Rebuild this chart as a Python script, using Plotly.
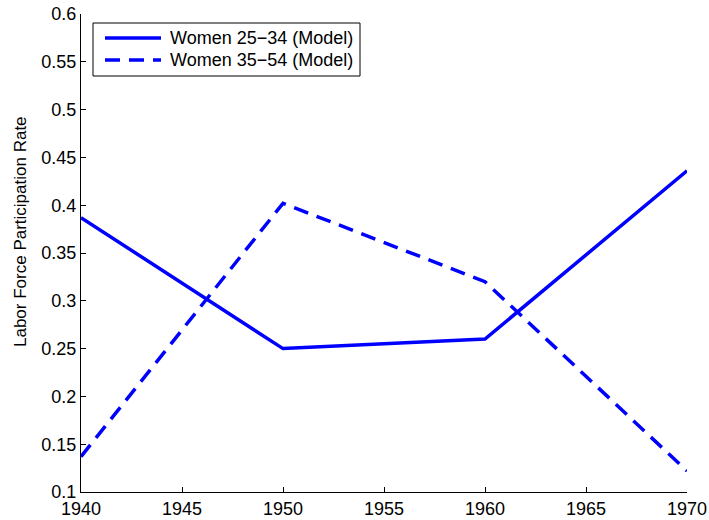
import plotly.graph_objects as go

years = [1940, 1950, 1960, 1970]
women_25_34 = [0.387, 0.250, 0.260, 0.436]
women_35_54 = [0.137, 0.402, 0.320, 0.122]
series_names = ["Women 25\u221234 (Model)", "Women 35\u221254 (Model)"]
x_ticks = [1940, 1945, 1950, 1955, 1960, 1965, 1970]
y_ticks = [0.1, 0.15, 0.2, 0.25, 0.3, 0.35, 0.4, 0.45, 0.5, 0.55, 0.6]
y_labels = ["0.1", "0.15", "0.2", "0.25", "0.3", "0.35", "0.4", "0.45", "0.5", "0.55", "0.6"]

W, H = 709, 520
L, R, T, B = 81, 22, 14, 28
pw, ph = W - L - R, H - T - B

def px(xp):
    return (xp - L) / pw

def py(yp):
    return (H - B - yp) / ph

FAM = "Liberation Sans, Arial, sans-serif"
BLUE = "#0000ff"
DASH = "15px,9px"

fig = go.Figure()
fig.add_trace(go.Scatter(x=years, y=women_25_34, mode="lines", name=series_names[0],
                         line=dict(color=BLUE, width=3.5)))
fig.add_trace(go.Scatter(x=years, y=women_35_54, mode="lines", name=series_names[1],
                         line=dict(color=BLUE, width=3.5, dash=DASH)))

font = dict(family=FAM, size=18, color="black")

shapes = [
    dict(type="rect", xref="paper", yref="paper", x0=px(93), x1=px(360), y0=py(76), y1=py(23),
         line=dict(color="black", width=1), fillcolor="white", layer="above"),
    dict(type="line", xref="paper", yref="paper", x0=px(105), x1=px(161), y0=py(38), y1=py(38),
         line=dict(color=BLUE, width=3.5), layer="above"),
    dict(type="line", xref="paper", yref="paper", x0=px(105), x1=px(161), y0=py(60), y1=py(60),
         line=dict(color=BLUE, width=3.5, dash=DASH), layer="above"),
]
annotations = [
    dict(xref="paper", yref="paper", x=px(168), y=py(38), text=series_names[0], showarrow=False,
         xanchor="left", yanchor="middle", font=font),
    dict(xref="paper", yref="paper", x=px(168), y=py(60), text=series_names[1], showarrow=False,
         xanchor="left", yanchor="middle", font=font),
    dict(xref="paper", yref="paper", x=px(20), y=py(232), text="Labor Force Participation Rate",
         textangle=-90, showarrow=False, xanchor="center", yanchor="middle",
         font=dict(family=FAM, size=17, color="black")),
]

fig.update_layout(
    width=W, height=H,
    margin=dict(l=L, r=R, t=T, b=B, autoexpand=False),
    paper_bgcolor="white", plot_bgcolor="white",
    font=font,
    showlegend=False,
    shapes=shapes,
    annotations=annotations,
    xaxis=dict(range=[1940, 1970], tickvals=x_ticks, ticks="inside", ticklen=5,
               showline=True, linecolor="black", linewidth=1, showgrid=False, automargin=False,
               zeroline=False, tickcolor="black", tickfont=font),
    yaxis=dict(range=[0.1, 0.6], tickvals=y_ticks, ticktext=y_labels, ticks="inside", ticklen=5,
               showline=True, linecolor="black", linewidth=1, showgrid=False, automargin=False,
               zeroline=False, tickcolor="black", tickfont=font),
)
fig.write_html("out.html")
